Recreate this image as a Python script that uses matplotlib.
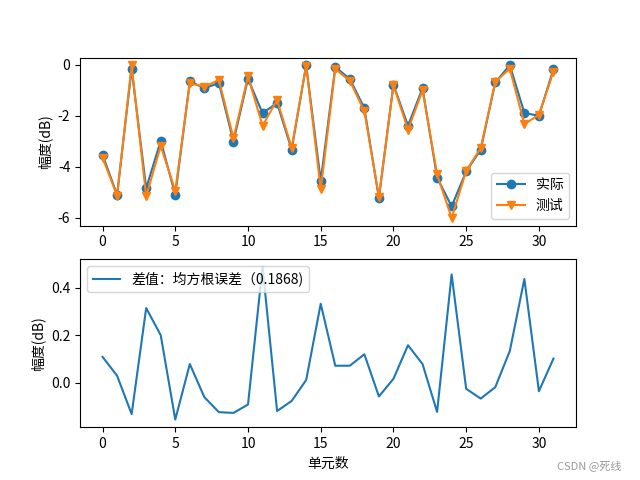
import matplotlib
matplotlib.use("Agg")
import matplotlib.pyplot as plt
import numpy as np

plt.rcParams['font.family'] = ['Noto Sans CJK SC', 'DejaVu Sans']
plt.rcParams['axes.unicode_minus'] = False

# 实际 / 测试 幅度 (dB), 32 个单元
actual = [-3.53, -5.10, -0.16, -4.84, -2.98, -5.10, -0.65, -0.92,
          -0.72, -3.01, -0.55, -1.90, -1.50, -3.33, -0.02, -4.55,
          -0.09, -0.56, -1.70, -5.23, -0.78, -2.39, -0.92, -4.42,
          -5.55, -4.18, -3.33, -0.69, -0.02, -1.89, -2.00, -0.17]
diff = [0.109, 0.030, -0.131, 0.314, 0.200, -0.154, 0.079, -0.060,
        -0.123, -0.126, -0.091, 0.487, -0.118, -0.076, 0.012, 0.332,
        0.072, 0.072, 0.120, -0.057, 0.017, 0.158, 0.079, -0.122,
        0.455, -0.025, -0.066, -0.018, 0.134, 0.436, -0.035, 0.102]
test = list(np.array(actual) - np.array(diff))
units = list(range(len(actual)))
rmse_text = '差值：均方根误差（0.1868)'

fig = plt.figure(figsize=(6.4, 4.8), dpi=100)

ax1 = fig.add_subplot(2, 1, 1)
ax1.plot(units, actual, marker='o', label='实际')
ax1.plot(units, test, marker='v', label='测试')
ax1.set_ylabel('幅度(dB)')
ax1.legend(loc='lower right')

ax2 = fig.add_subplot(2, 1, 2)
ax2.plot(units, np.array(actual) - np.array(test), label=rmse_text)
ax2.set_ylabel('幅度(dB)')
ax2.set_xlabel('单元数')
ax2.legend(loc='upper left')

fig.text(0.87, 0.022, 'CSDN @死线', color='#999999', fontsize=8)

plt.savefig('out.png', dpi=100)
